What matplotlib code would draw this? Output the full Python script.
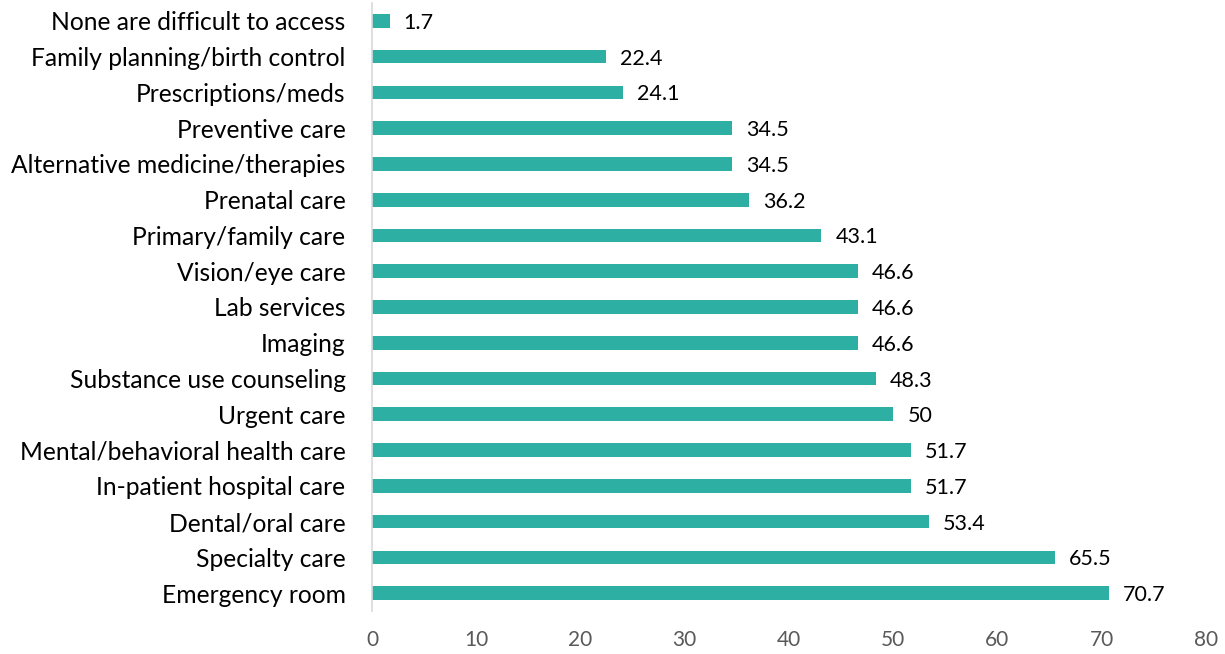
import matplotlib.pyplot as plt

# Services reported as difficult to access (%)
services = [
    "Emergency room",
    "Specialty care",
    "Dental/oral care",
    "In-patient hospital care",
    "Mental/behavioral health care",
    "Urgent care",
    "Substance use counseling",
    "Imaging",
    "Lab services",
    "Vision/eye care",
    "Primary/family care",
    "Prenatal care",
    "Alternative medicine/therapies",
    "Preventive care",
    "Prescriptions/meds",
    "Family planning/birth control",
    "None are difficult to access",
]
percent = [70.7, 65.5, 53.4, 51.7, 51.7, 50, 48.3, 46.6, 46.6, 46.6,
           43.1, 36.2, 34.5, 34.5, 24.1, 22.4, 1.7]
xticks = [0, 10, 20, 30, 40, 50, 60, 70, 80]

plt.rcParams['font.family'] = ['Lato', 'DejaVu Sans']

fig = plt.figure(figsize=(12.25, 6.54), dpi=100)
ax = fig.add_axes([372 / 1225, 1 - 611 / 654, 834 / 1225, 608 / 654])

ypos = range(len(services))
ax.barh(ypos, percent, height=0.38, color='#2EAFA4')

for y, v in zip(ypos, percent):
    ax.text(v + 1.35, y, f"{v:g}", va='center_baseline', ha='left',
            fontsize=15.5, color='#000000')

ax.set_xlim(0, 80)
ax.set_ylim(-0.5, len(services) - 0.5)
ax.set_xticks(xticks)
ax.set_xticklabels([str(t) for t in xticks], fontsize=15, color='#595959')
ax.set_yticks(list(ypos))
ax.set_yticklabels(services, fontsize=17.7, color='#000000')
ax.tick_params(axis='both', length=0)
ax.tick_params(axis='x', pad=14)
ax.tick_params(axis='y', pad=19)

for side in ['top', 'right', 'bottom']:
    ax.spines[side].set_visible(False)
ax.spines['left'].set_color('#D9D9D9')
ax.spines['left'].set_linewidth(1.2)

fig.savefig('out.png', dpi=100)
